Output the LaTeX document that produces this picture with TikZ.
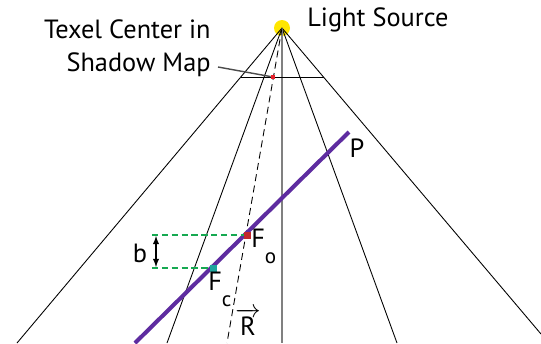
\documentclass[tikz,border=0pt]{standalone}
\usepackage{amsmath,fontspec}
\setmainfont{PT Sans}
\definecolor{ffe600}{HTML}{FFE600}
\definecolor{e8202a}{HTML}{E8202A}
\definecolor{5b2c9e}{HTML}{5E2CA0}
\definecolor{c1272d}{HTML}{C1272D}
\definecolor{1fa59e}{HTML}{1FA59E}
\definecolor{16a951}{HTML}{16A951}

\begin{document}
\begin{tikzpicture}[>=latex,x=.02cm,y=-.02cm,every node/.style={font=\fontsize{15}{18.8}\selectfont}]
    \useasboundingbox(0,0)rectangle(541,343);
    \coordinate(L)at(282,28);
    \node[fill=ffe600,circle,inner sep=0,minimum size=.32cm](sun)at(L){};
    \foreach \x/\y in {17/343,167/343,397/343,541/334}
        \draw[line width=.5pt](L)--(\x,\y);
    \draw[gray,line width=1pt](L)--(282,343);
    \draw[dash pattern=on 4pt off 2.5pt,line width=.5pt](L)--(227,343);
    \draw[line width=.5pt](241,77)--(324,77);
    \node[fill=e8202a,inner sep=0,minimum size=.08cm](T)at(273,77){};
    \draw[black!70,line width=.8pt](218,67)--(T);
    \node[align=right,anchor=east,inner sep=0](texel)at(211,48){Texel Center in\\Shadow Map};
    \node[anchor=west,inner sep=0](light)at(307,20){Light Source};
    \coordinate(A)at(135,343);
    \coordinate(B)at(349,132);
    \draw[5b2c9e,line width=2.3pt](A)--(B);
    \node(P)at(357,148){P};
    \draw[16a951,line width=1.5pt,dash pattern=on 3.6pt off 2pt](152,235)--(247,235);
    \draw[16a951,line width=1.5pt,dash pattern=on 3.6pt off 2pt](152,268)--(213,268);
    \node[fill=c1272d,inner sep=0,minimum size=.14cm](Fo)at(247,235){};
    \node[fill=1fa59e,inner sep=0,minimum size=.14cm](Fc)at(213,268){};
    \draw[<->,line width=.6pt](156,236)--(156,267);
    \node(b)at(140,253){b};
    \node[anchor=west,inner sep=0](Fol)at(251,246){F\raisebox{-1.2ex}{\fontsize{12}{14}\selectfont o}};
    \node[anchor=west,inner sep=0](Fcl)at(208,289){F\raisebox{-1.2ex}{\fontsize{12}{14}\selectfont c}};
    \node(R)at(248,322){$\overrightarrow{\text{R}}$};
\end{tikzpicture}
\end{document}
